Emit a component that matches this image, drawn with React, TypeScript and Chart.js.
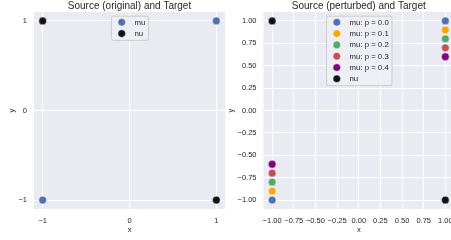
import React, { useEffect, useRef } from "react";
import { Chart, registerables } from "chart.js";
Chart.register(...registerables);

const FONT = "'Liberation Sans', Arial, sans-serif";
const TEXT = "#262626";

// ---- data ----
const leftTicks = [-1, 0, 1];
const rightTicks = [-1, -0.75, -0.5, -0.25, 0, 0.25, 0.5, 0.75, 1];

const muOrigX = [-1, 1];
const muOrigY = [-1, 1];
const nuX = [-1, 1];
const nuY = [1, -1];

const pertLabels = ["mu: p = 0.0", "mu: p = 0.1", "mu: p = 0.2", "mu: p = 0.3", "mu: p = 0.4"];
const muPertX = [-1, 1];
const muPertY = [
  [-1, 1],
  [-0.9, 0.9],
  [-0.8, 0.8],
  [-0.7, 0.7],
  [-0.6, 0.6],
];
const pertColors = ["#4C72B0", "#FFA500", "#55A868", "#C44E52", "#800080"];
const muColor = "#4C72B0";
const nuColor = "#111111";

const fmt = (d: number) => (v: number) =>
  (v < 0 ? "\u2212" : "") + Math.abs(v).toFixed(d);

const bgPlugin = {
  id: "bgArea",
  beforeDraw(chart: any) {
    const { ctx, chartArea: a } = chart;
    ctx.save();
    ctx.fillStyle = "#EAEAF2";
    ctx.fillRect(a.left, a.top, a.right - a.left, a.bottom - a.top);
    ctx.restore();
  },
};

const titlePlugin = {
  id: "innerTitle",
  afterDraw(chart: any, _args: any, opts: any) {
    const { ctx, chartArea: a } = chart;
    ctx.save();
    ctx.font = `10px ${FONT}`;
    ctx.fillStyle = TEXT;
    ctx.textAlign = "center";
    ctx.textBaseline = "alphabetic";
    ctx.fillText(opts.text, (a.left + a.right) / 2, 9);
    ctx.restore();
  },
};

const legendPlugin = {
  id: "innerLegend",
  afterDraw(chart: any) {
    const { ctx, chartArea: a } = chart;
    const ds = chart.data.datasets;
    const rowH = 11.3;
    const markerX = 10.8;
    const textX = 23.5;
    ctx.save();
    ctx.font = `7.8px ${FONT}`;
    let maxW = 0;
    ds.forEach((d: any) => {
      maxW = Math.max(maxW, ctx.measureText(d.label).width);
    });
    const w = textX + maxW + 2.8;
    const h = ds.length * rowH + 1.6;
    const cx = (a.left + a.right) / 2;
    const x0 = cx - w / 2;
    const y0 = a.top + 3.7;
    ctx.beginPath();
    (ctx as any).roundRect(x0 + 0.5, y0 + 0.5, w, h, 2);
    ctx.fillStyle = "rgba(238,238,245,0.9)";
    ctx.fill();
    ctx.strokeStyle = "#CCCCCC";
    ctx.lineWidth = 1;
    ctx.stroke();
    ds.forEach((d: any, i: number) => {
      const y = y0 + 6.6 + i * rowH;
      ctx.beginPath();
      ctx.arc(x0 + markerX, y, 3.8, 0, Math.PI * 2);
      ctx.fillStyle = d.backgroundColor;
      ctx.fill();
      ctx.lineWidth = 0.5;
      ctx.strokeStyle = "#ffffff";
      ctx.stroke();
      ctx.fillStyle = TEXT;
      ctx.textAlign = "left";
      ctx.textBaseline = "middle";
      ctx.fillText(d.label, x0 + textX, y + 0.3);
    });
    ctx.restore();
  },
};

function pts(xs: number[], ys: number[]) {
  return xs.map((x, i) => ({ x, y: ys[i] }));
}

function ds(label: string, color: string, data: any[]) {
  return {
    label,
    data,
    backgroundColor: color,
    borderColor: "#ffffff",
    borderWidth: 0.5,
    pointRadius: 3.9,
    pointHoverRadius: 3.9,
  };
}

function scale(ticks: number[], digits: number, horizontal: boolean, title: string, yTitlePad: number, yWidth: number) {
  return {
    type: "linear",
    min: -1.1,
    max: 1.1,
    afterBuildTicks: (s: any) => {
      s.ticks = ticks.map((v) => ({ value: v }));
    },
    afterFit: (s: any) => {
      if (horizontal) s.height = 31;
      else s.width = yWidth;
    },
    grid: { color: "#ffffff", lineWidth: 1, drawTicks: false },
    border: { display: false },
    ticks: {
      padding: 7,
      autoSkip: false,
      maxRotation: 0,
      color: TEXT,
      font: { family: FONT, size: 7.5 },
      callback: (v: any) => fmt(digits)(Number(v)),
    },
    title: {
      display: true,
      text: title,
      color: TEXT,
      font: { family: FONT, size: 7.5 },
      padding: horizontal ? { top: 0, bottom: 5.5 } : { top: yTitlePad, bottom: 0 },
    },
  };
}

function makeChart(canvas: HTMLCanvasElement, datasets: any[], ticks: number[], digits: number, titleText: string, yWidth: number, yTitlePad: number, padRight: number) {
  return new Chart(canvas, {
    type: "scatter",
    data: { datasets },
    options: {
      responsive: false,
      animation: false,
      devicePixelRatio: 1,
      layout: { padding: { top: 12, right: padRight, left: 0, bottom: 0 } },
      scales: {
        x: scale(ticks, digits, true, "x", 0, 0) as any,
        y: scale(ticks, digits, false, "y", yTitlePad, yWidth) as any,
      },
      plugins: {
        legend: { display: false },
        tooltip: { enabled: false },
        innerTitle: { text: titleText },
      } as any,
    },
    plugins: [bgPlugin, titlePlugin, legendPlugin],
  });
}

export default function App() {
  const lRef = useRef<HTMLCanvasElement>(null);
  const rRef = useRef<HTMLCanvasElement>(null);

  useEffect(() => {
    const left = makeChart(
      lRef.current!,
      [ds("mu", muColor, pts(muOrigX, muOrigY)), ds("nu", nuColor, pts(nuX, nuY))],
      leftTicks,
      0,
      "Source (original) and Target",
      34,
      7.2,
      7
    );
    const rightSets = pertLabels.map((l, i) => ds(l, pertColors[i], pts(muPertX, muPertY[i])));
    rightSets.push(ds("nu", nuColor, pts(nuX, nuY)));
    const right = makeChart(
      rRef.current!,
      rightSets,
      rightTicks,
      2,
      "Source (perturbed) and Target",
      37.5,
      0.5,
      12
    );
    return () => {
      left.destroy();
      right.destroy();
    };
  }, []);

  return (
    <div
      style={{
        position: "fixed",
        left: 0,
        top: 0,
        width: 451,
        height: 240,
        overflow: "hidden",
        background: "#ffffff",
      }}
    >
      <canvas ref={lRef} width={232} height={240} style={{ position: "absolute", left: 0, top: 0, width: 232, height: 240 }} />
      <canvas ref={rRef} width={240} height={240} style={{ position: "absolute", left: 226, top: 0, width: 240, height: 240 }} />
    </div>
  );
}
